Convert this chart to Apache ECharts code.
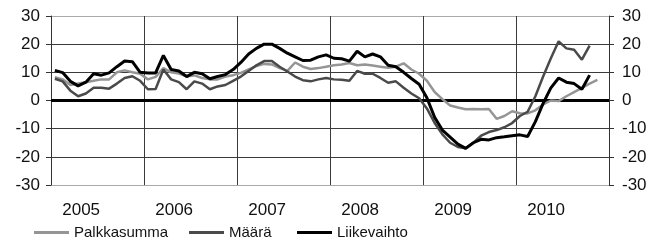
<!DOCTYPE html>
<html><head><meta charset="utf-8">
<script src="https://cdn.jsdelivr.net/npm/echarts@6/dist/echarts.min.js"></script>
<style>html,body{margin:0;padding:0;background:#fff}#c{width:666px;height:240px}</style>
</head><body><div id="c"></div>
<script>
const years = [2005, 2006, 2007, 2008, 2009, 2010];
const yTicks = [-30, -20, -10, 0, 10, 20, 30];
const seriesNames = ['Palkkasumma', 'Määrä', 'Liikevaihto'];
// monthly values starting January 2005
const palkkasumma = [8.3, 7.5, 5.5, 6, 6.5, 7, 7.5, 7.5, 10, 10.7, 10, 9.5,
  7.5, 8.4, 11.5, 10, 9.6, 8.6, 8.9, 8, 7.5, 7.5, 8.5, 9,
  9.8, 11, 12.2, 13, 12.8, 11.5, 10.5, 13.5, 12, 11.2, 11.5, 12,
  12.5, 12.8, 13.3, 12.5, 12.8, 12.4, 12, 11.6, 12, 13.2, 11, 9.5,
  7, 3, 0.5, -1.8, -2.5, -3.1, -3, -3.1, -3, -6.5, -5.5, -3.8,
  -4.5, -4.6, -3.5, -1.4, 0, -0.2, 1.5, 3, 4.5, 6, 7.3];
const maara = [7.7, 6.8, 3.5, 1.5, 2.5, 4.5, 4.5, 4.2, 6, 8, 8.6, 7,
  4, 4.1, 11, 7.5, 6.5, 4, 6.8, 6, 4, 5, 5.5, 7,
  8.5, 10.5, 12.5, 14, 14, 12, 10.3, 8.5, 7.2, 6.8, 7.5, 8,
  7.5, 7.4, 7, 10.5, 9.5, 9.5, 8, 6.3, 6.8, 4.5, 2.5, 0.8,
  -2.8, -8, -12, -15, -16.5, -17, -15, -12.5, -11.2, -10.5, -9.5, -8,
  -5.5, -4, 1.5, 8.5, 15, 21, 18.5, 18, 14.5, 19.5];
const liikevaihto = [10.7, 9.9, 6.8, 5.2, 6.5, 9.5, 9, 9.8, 12, 14, 13.8, 10,
  9.8, 9.8, 16, 11, 10.5, 8.5, 10, 9.5, 7.7, 8.5, 9.2, 11,
  13.5, 16.5, 18.5, 20, 20, 18.5, 16.8, 15.5, 14.2, 14.3, 15.5, 16.2,
  15, 14.8, 14, 17.5, 15.5, 16.5, 15.5, 12.5, 12, 10, 7.8, 5.8,
  1, -6, -10.5, -13, -15.5, -17, -15, -13.8, -14, -13.2, -12.9, -12.5,
  -12.2, -12.8, -7.5, -1, 4.5, 8, 6.5, 6, 4, 9];

const months = [];
years.forEach(y => { for (let m = 1; m <= 12; m++) months.push(y + '-' + (m < 10 ? '0' + m : m)); });

const FONT = "'Liberation Sans', Arial, sans-serif";
const colors = ['#959595', '#4a4a4a', '#000000'];
const widths = [2.5, 2.5, 3];

const chart = echarts.init(document.getElementById('c'), null, {renderer: 'canvas'});
const yAxisCommon = {
  type: 'value', min: yTicks[0], max: yTicks[yTicks.length - 1], interval: 10,
  axisLine: {show: true, lineStyle: {color: '#333', width: 1}},
  axisTick: {show: true, length: 5, lineStyle: {color: '#333'}},
  axisLabel: {fontFamily: FONT, fontSize: 17, color: '#111'}
};
chart.setOption({
  animation: false,
  grid: {left: 51, right: 57, top: 16, bottom: 55},
  xAxis: {
    type: 'category', data: months, boundaryGap: true,
    axisLine: {show: false},
    axisTick: {show: false},
    splitLine: {show: true, interval: 11, lineStyle: {color: '#3a3a3a', width: 1}},
    axisLabel: {
      interval: (i) => i % 12 === 3,
      formatter: (v) => v.slice(0, 4),
      fontFamily: FONT, fontSize: 17, color: '#111', margin: 17,
      padding: [0, 0, 0, 6]
    }
  },
  yAxis: [
    Object.assign({}, yAxisCommon, {
      position: 'left',
      axisLabel: Object.assign({}, yAxisCommon.axisLabel, {margin: 11}),
      splitLine: {show: true, lineStyle: {color: ['#aaaaaa', '#3a3a3a', '#3a3a3a', '#3a3a3a', '#3a3a3a', '#3a3a3a', '#aaaaaa'], width: 1}}
    }),
    Object.assign({}, yAxisCommon, {
      position: 'right',
      axisLabel: Object.assign({}, yAxisCommon.axisLabel, {margin: 13}),
      splitLine: {show: false}
    })
  ],
  legend: seriesNames.map((n, k) => ({
    data: [n], left: [34, 189, 297][k], top: 225, padding: 0,
    icon: 'rect', itemWidth: 35, itemHeight: 3,
    textStyle: {fontFamily: FONT, fontSize: 15, color: '#111'}
  })),
  series: [palkkasumma, maara, liikevaihto].map((d, k) => ({
    name: seriesNames[k], type: 'line', data: d, symbol: 'none',
    lineStyle: {color: colors[k], width: widths[k]},
    itemStyle: {color: colors[k]},
    z: 3 + k,
    markLine: k === 2 ? {
      silent: true, symbol: 'none', label: {show: false},
      lineStyle: {color: '#000', width: 3, type: 'solid'},
      data: [{yAxis: 0}], z: 2
    } : undefined
  }))
});
</script></body></html>
